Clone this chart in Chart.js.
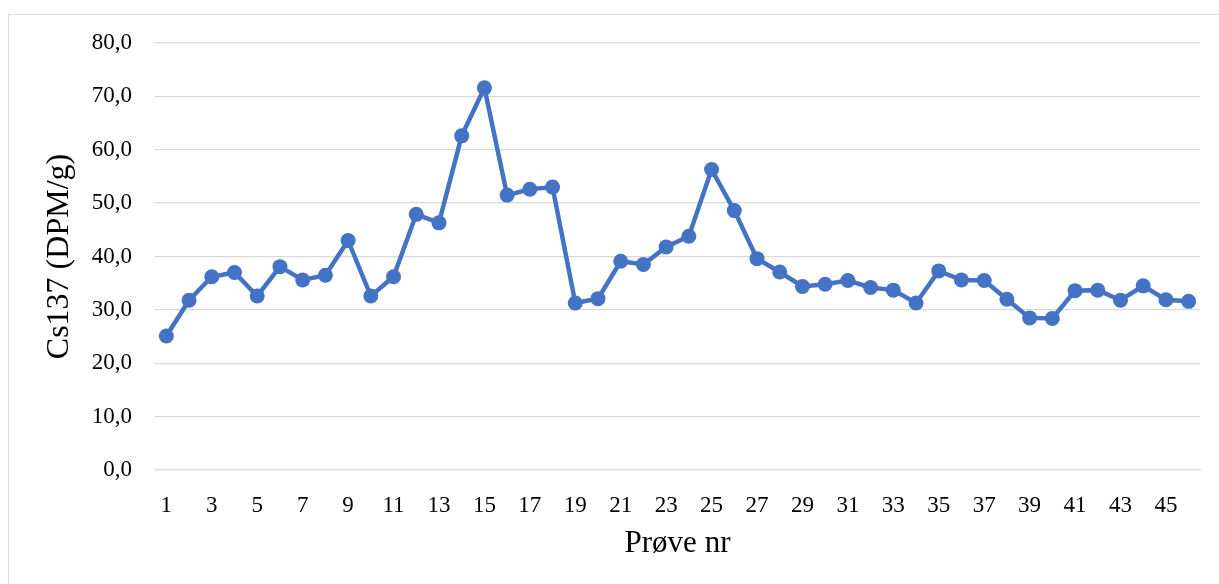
<!DOCTYPE html>
<html>
<head>
<meta charset="utf-8">
<script src="https://cdn.jsdelivr.net/npm/chart.js@4/dist/chart.umd.min.js"></script>
<style>
  html, body { margin: 0; padding: 0; background: #fff; overflow: hidden; }
  #frame {
    position: absolute; left: 8px; top: 14px; width: 1300px; height: 700px;
    border-top: 1px solid #d9d9d9; border-left: 1px solid #d9d9d9;
  }
  #chart { position: absolute; left: 0; top: 0; }
</style>
</head>
<body>
<div id="frame"></div>
<canvas id="chart" width="1219" height="584"></canvas>
<script>
// Prøve nr 1..46
const samples = [1, 2, 3, 4, 5, 6, 7, 8, 9, 10, 11, 12, 13, 14, 15, 16, 17, 18, 19, 20, 21, 22, 23,
                 24, 25, 26, 27, 28, 29, 30, 31, 32, 33, 34, 35, 36, 37, 38, 39, 40, 41, 42, 43, 44, 45, 46];

// Cs137 (DPM/g)
const cs137 = [25.1, 31.8, 36.2, 37.0, 32.6, 38.1, 35.6, 36.5, 43.0, 32.6, 36.2, 47.9, 46.3, 62.6, 71.6,
               51.5, 52.6, 53.0, 31.3, 32.1, 39.1, 38.5, 41.8, 43.8, 56.3, 48.6, 39.6, 37.1, 34.4, 34.8,
               35.5, 34.2, 33.7, 31.3, 37.3, 35.6, 35.5, 32.0, 28.5, 28.4, 33.6, 33.7, 31.8, 34.5, 31.9, 31.6];

const yMin = 0;
const yMax = 80;
const yStep = 10;

const serif = '"Liberation Serif", "Times New Roman", serif';

const ctx = document.getElementById('chart').getContext('2d');
new Chart(ctx, {
    type: 'line',
    data: {
        labels: samples.map(String),
        datasets: [{
            data: cs137,
            borderColor: '#4472C4',
            backgroundColor: '#4472C4',
            borderWidth: 4.5,
            pointRadius: 7.5,
            pointBorderWidth: 0,
            pointBackgroundColor: '#4472C4',
            tension: 0
        }]
    },
    options: {
        responsive: false,
        animation: false,
        layout: { padding: { left: 40, right: 19, top: 43, bottom: 22 } },
        plugins: {
            legend: { display: false },
            tooltip: { enabled: false }
        },
        scales: {
            x: {
                offset: true,
                grid: { display: false, drawTicks: false },
                border: { display: true, color: '#d9d9d9', width: 1.3 },
                ticks: {
                    autoSkip: false,
                    maxRotation: 0,
                    padding: 22,
                    color: '#000',
                    font: { family: serif, size: 23 },
                    callback: function (val, i) { return i % 2 === 0 ? this.getLabelForValue(val) : ''; }
                },
                title: {
                    display: true,
                    text: 'Prøve nr',
                    color: '#000',
                    font: { family: serif, size: 31 },
                    padding: 0
                },
                afterFit: (scale) => { scale.height = 584 - 22 - 470; }
            },
            y: {
                min: yMin,
                max: yMax,
                grid: { color: '#d9d9d9', lineWidth: 1.3, drawTicks: false },
                border: { display: false },
                ticks: {
                    stepSize: yStep,
                    padding: 23,
                    color: '#000',
                    font: { family: serif, size: 23 },
                    callback: (v) => v.toFixed(1).replace('.', ',')
                },
                title: {
                    display: true,
                    text: 'Cs137 (DPM/g)',
                    color: '#000',
                    font: { family: serif, size: 32 },
                    padding: 0
                },
                afterFit: (scale) => { scale.width = 155 - 40; }
            }
        }
    }
});
</script>
</body>
</html>
